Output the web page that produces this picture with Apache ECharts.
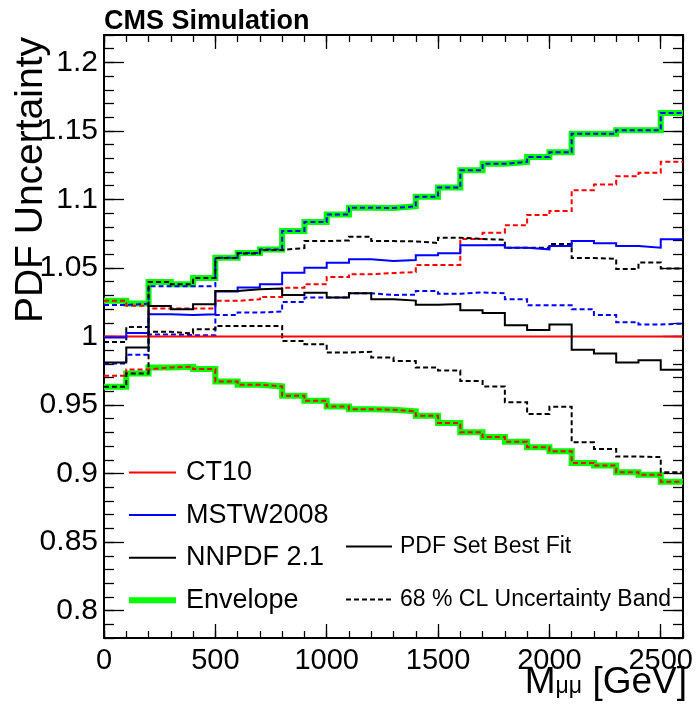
<!DOCTYPE html>
<html>
<head>
<meta charset="utf-8">
<script src="https://cdn.jsdelivr.net/npm/echarts@6/dist/echarts.min.js"></script>
<style>
html,body{margin:0;padding:0;background:#ffffff;}
#chart{width:696px;height:707px;}
</style>
</head>
<body>
<div id="chart"></div>
<script>
// ---------------- DATA ----------------
// lower edges of the 100 GeV mass bins (GeV); last bin ends at massMax
const massBinLow = [0,100,200,300,400,500,600,700,800,900,1000,1100,1200,1300,1400,1500,1600,1700,1800,1900,2000,2100,2200,2300,2400,2500];
const massMax = 2600;

const ct10Central = [1,1,1,1,1,1,1,1,1,1,1,1,1,1,1,1,1,1,1,1,1,1,1,1,1,1];
const ct10Up   = [1.026,1.0225,1.0204,1.0204,1.0204,1.026,1.0272,1.0289,1.0355,1.0381,1.0434,1.0454,1.0463,1.047,1.0522,1.0522,1.0712,1.0757,1.0811,1.0886,1.0915,1.1068,1.1109,1.117,1.1194,1.1275];
const ct10Down = [0.9713,0.976,0.9774,0.9779,0.9762,0.9672,0.9648,0.9636,0.9567,0.9531,0.949,0.947,0.9465,0.9454,0.9422,0.9369,0.9301,0.9266,0.9232,0.9192,0.9162,0.9077,0.9058,0.901,0.8992,0.8941];

const mstwCentral = [0.9993,1.0026,1.0162,1.0157,1.0162,1.0328,1.0357,1.0381,1.0466,1.0502,1.0539,1.0563,1.0551,1.0558,1.0592,1.0607,1.0665,1.0667,1.0648,1.0636,1.066,1.0696,1.068,1.066,1.0648,1.0709];
const mstwUp   = [1.023,1.024,1.0367,1.0367,1.0367,1.0575,1.061,1.0635,1.077,1.0835,1.089,1.094,1.0937,1.095,1.102,1.1087,1.1213,1.126,1.1274,1.131,1.1345,1.148,1.148,1.1505,1.1505,1.163];
const mstwDown = [0.9803,0.9866,1.0015,1.001,1.001,1.0157,1.0175,1.0182,1.0252,1.0284,1.0284,1.0315,1.0303,1.0305,1.0332,1.0312,1.0322,1.0315,1.0272,1.0228,1.0228,1.0199,1.0157,1.0104,1.0088,1.0094];

const nnpdfCentral = [0.981,0.992,1.0223,1.0199,1.0235,1.0332,1.0344,1.035,1.0303,1.032,1.0284,1.0315,1.0272,1.0262,1.0232,1.0237,1.0192,1.0172,1.0082,1.0047,1.0087,0.9903,0.9876,0.981,0.9827,0.9757];
const nnpdfUp   = [0.996,1.007,1.0398,1.0381,1.0427,1.0572,1.0605,1.0632,1.0645,1.0696,1.0701,1.0728,1.0696,1.0694,1.0682,1.0721,1.0712,1.0705,1.0648,1.0647,1.0675,1.0572,1.0567,1.0493,1.054,1.0497];
const nnpdfDown = [0.9633,0.973,1.0034,1.0022,1.0053,1.0077,1.0077,1.0077,0.9968,0.9944,0.9883,0.9888,0.9847,0.9822,0.9773,0.9752,0.9675,0.9636,0.952,0.9434,0.9488,0.9228,0.918,0.9124,0.912,0.901];

const envelopeUp   = [1.026,1.024,1.0398,1.0381,1.0427,1.0575,1.061,1.0635,1.077,1.0835,1.089,1.094,1.0937,1.095,1.102,1.1087,1.1213,1.126,1.1274,1.131,1.1345,1.148,1.148,1.1505,1.1505,1.163];
const envelopeDown = [0.9633,0.973,0.9774,0.9779,0.9762,0.9672,0.9648,0.9636,0.9567,0.9531,0.949,0.947,0.9465,0.9454,0.9422,0.9369,0.9301,0.9266,0.9232,0.9192,0.9162,0.9077,0.9058,0.901,0.8992,0.8941];

const xTickLabels = [0,500,1000,1500,2000,2500];
const xMinorTicks = [0,100,200,300,400,500,600,700,800,900,1000,1100,1200,1300,1400,1500,1600,1700,1800,1900,2000,2100,2200,2300,2400,2500,2600];
const yTickLabels = [0.8,0.85,0.9,0.95,1,1.05,1.1,1.15,1.2];
const yMinorTicks = [0.78,0.79,0.8,0.81,0.82,0.83,0.84,0.85,0.86,0.87,0.88,0.89,0.9,0.91,0.92,0.93,0.94,0.95,0.96,0.97,0.98,0.99,1,1.01,1.02,1.03,1.04,1.05,1.06,1.07,1.08,1.09,1.1,1.11,1.12,1.13,1.14,1.15,1.16,1.17,1.18,1.19,1.2,1.21,1.22];
const yMin = 0.78, yMax = 1.22;

// ---------------- CHART ----------------
const FONT = 'Liberation Sans, Arial, Helvetica, sans-serif';
const chart = echarts.init(document.getElementById('chart'), null, {renderer: 'canvas'});

function hist(arr) {
  const d = massBinLow.map((x, i) => [x, arr[i]]);
  d.push([massMax, arr[arr.length - 1]]);
  return d;
}
function stepSeries(name, arr, color, width, dashed, z) {
  return {
    type: 'line', name: name, data: hist(arr), step: 'end',
    symbol: 'none', showSymbol: false, clip: true, z: z,
    xAxisIndex: 0, yAxisIndex: 0,
    lineStyle: {color: color, width: width, type: dashed ? [5, 3] : 'solid', join: 'miter', cap: 'butt'},
    itemStyle: {color: color},
    emphasis: {disabled: true}
  };
}
function xAx(pos, major) {
  return {
    type: 'value', position: pos, min: 0, max: massMax, gridIndex: 0,
    axisLine: {show: major, onZero: false, lineStyle: {color: '#000', width: 2}},
    axisTick: {show: true, inside: true, length: major ? 14 : 7,
      customValues: major ? xTickLabels : xMinorTicks,
      lineStyle: {color: '#000', width: 1.3}},
    axisLabel: {show: pos === 'bottom' && major, customValues: xTickLabels,
      formatter: v => String(v),
      color: '#000', fontSize: 29, fontFamily: FONT, margin: 8},
    splitLine: {show: false}
  };
}
function yAx(pos, major) {
  return {
    type: 'value', position: pos, min: yMin, max: yMax, gridIndex: 0,
    axisLine: {show: major, onZero: false, lineStyle: {color: '#000', width: 2}},
    axisTick: {show: true, inside: true, length: major ? 20 : 10,
      customValues: major ? yTickLabels : yMinorTicks,
      lineStyle: {color: '#000', width: 1.3}},
    axisLabel: {show: pos === 'left' && major, customValues: yTickLabels,
      formatter: v => String(v),
      color: '#000', fontSize: 30, fontFamily: FONT, margin: 6},
    splitLine: {show: false}
  };
}

const option = {
  animation: false,
  backgroundColor: '#ffffff',
  grid: {left: 104, right: 9, top: 35, bottom: 69, containLabel: false},
  xAxis: [xAx('bottom', true), xAx('bottom', false), xAx('top', true), xAx('top', false)],
  yAxis: [yAx('left', true), yAx('left', false), yAx('right', true), yAx('right', false)],
  legend: [
    {
      data: [
        {name: 'CT10'}, {name: 'MSTW2008'}, {name: 'NNPDF 2.1'},
        {name: 'Envelope', lineStyle: {width: 6}}
      ],
      orient: 'vertical', left: 126, top: 457.5, padding: 0,
      itemWidth: 47, itemHeight: 14, itemGap: 12.6,
      selectedMode: false, itemStyle: {opacity: 0},
      textStyle: {fontSize: 27, fontFamily: FONT, color: '#000', lineHeight: 30, padding: [0, 0, 0, 5]}
    },
    {
      data: [{name: 'PDF Set Best Fit'}, {name: '68 % CL Uncertainty Band'}],
      orient: 'vertical', left: 345, top: 534, padding: 0,
      itemWidth: 46, itemHeight: 14, itemGap: 28,
      selectedMode: false, itemStyle: {opacity: 0},
      textStyle: {fontSize: 23, fontFamily: FONT, color: '#000', lineHeight: 25, padding: [0, 0, 0, 3]}
    }
  ],
  series: [
    stepSeries('Envelope', envelopeUp, '#00ff00', 6, false, 2),
    stepSeries('Envelope', envelopeDown, '#00ff00', 6, false, 2),
    stepSeries('CT10 band up', ct10Up, '#ff0000', 2, true, 3),
    stepSeries('CT10 band down', ct10Down, '#ff0000', 2, true, 3),
    stepSeries('MSTW2008 band up', mstwUp, '#0000ff', 2, true, 3),
    stepSeries('MSTW2008 band down', mstwDown, '#0000ff', 2, true, 3),
    stepSeries('NNPDF 2.1 band up', nnpdfUp, '#000000', 2, true, 3),
    stepSeries('NNPDF 2.1 band down', nnpdfDown, '#000000', 2, true, 3),
    stepSeries('CT10', ct10Central, '#ff0000', 2, false, 4),
    stepSeries('MSTW2008', mstwCentral, '#0000ff', 2, false, 4),
    stepSeries('NNPDF 2.1', nnpdfCentral, '#000000', 2, false, 4),
    {type: 'line', name: 'PDF Set Best Fit', data: [], symbol: 'none',
      lineStyle: {color: '#000', width: 2, type: 'solid'}, itemStyle: {color: '#000'}},
    {type: 'line', name: '68 % CL Uncertainty Band', data: [], symbol: 'none',
      lineStyle: {color: '#000', width: 2, type: [5, 3]}, itemStyle: {color: '#000'}}
  ],
  graphic: [
    {type: 'text', left: 104, top: 8,
      style: {text: 'CMS Simulation', fontSize: 27, fontWeight: 'bold', fontFamily: FONT, fill: '#000'}},
    {type: 'text', x: 31, y: 37, rotation: Math.PI / 2,
      style: {text: 'PDF Uncertainty', fontSize: 39, fontFamily: FONT, fill: '#000',
        align: 'right', verticalAlign: 'middle'}},
    {type: 'text', x: 687, y: 710,
      style: {
        text: '{m|M}{s|μμ}{m| [GeV]}', align: 'right', verticalAlign: 'bottom',
        fill: '#000', fontFamily: FONT,
        rich: {
          m: {fontSize: 37, fontFamily: FONT, fill: '#000', padding: [0, 0, 9, 0]},
          s: {fontSize: 23, fontFamily: FONT, fill: '#000'}
        }
      }}
  ]
};
chart.setOption(option);
</script>
</body>
</html>
